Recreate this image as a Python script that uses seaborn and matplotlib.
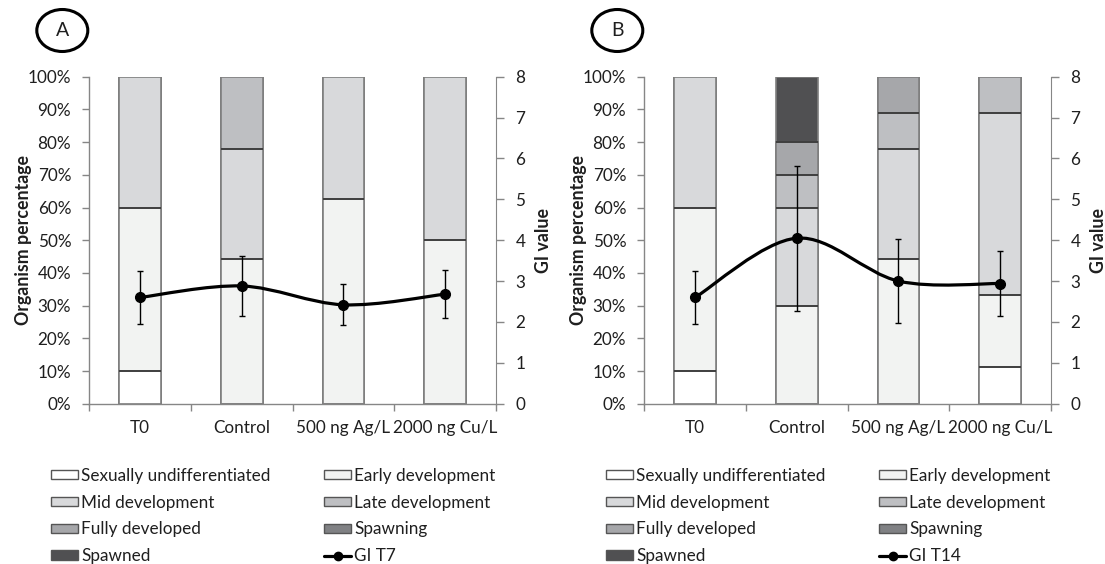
import numpy as np
import pandas as pd
import seaborn as sns
import matplotlib.pyplot as plt
from matplotlib.path import Path
from matplotlib.patches import PathPatch, Ellipse, Patch
from matplotlib.lines import Line2D
from matplotlib.ticker import FixedLocator, FuncFormatter

categories = ["T0", "Control", "500 ng Ag/L", "2000 ng Cu/L"]
stages = ["Sexually undifferentiated", "Early development", "Mid development",
          "Late development", "Fully developed", "Spawning", "Spawned"]
stage_colors = ["#ffffff", "#f2f3f2", "#d8d9db", "#bebfc2", "#a6a7aa", "#808184", "#505052"]

# % of organisms per stage (rows = stages, cols = categories)
stages_t7 = [
    [10.0, 0.0, 0.0, 0.0],
    [50.0, 44.4, 62.5, 50.0],
    [40.0, 33.4, 37.5, 50.0],
    [0.0, 22.2, 0.0, 0.0],
    [0.0, 0.0, 0.0, 0.0],
    [0.0, 0.0, 0.0, 0.0],
    [0.0, 0.0, 0.0, 0.0],
]
stages_t14 = [
    [10.0, 0.0, 0.0, 11.1],
    [50.0, 30.0, 44.4, 22.2],
    [40.0, 30.0, 33.4, 55.6],
    [0.0, 10.0, 11.1, 11.1],
    [0.0, 10.0, 11.1, 0.0],
    [0.0, 0.0, 0.0, 0.0],
    [0.0, 20.0, 0.0, 0.0],
]

gi_t7 = [2.60, 2.88, 2.42, 2.68]
gi_t7_sd = [0.65, 0.73, 0.50, 0.59]
gi_t14 = [2.60, 4.05, 3.00, 2.94]
gi_t14_sd = [0.65, 1.77, 1.02, 0.80]

W, H = 1105, 564
BAR_W = 0.41
GRAY = "#868686"
TXT = "#1f1f1f"
FS = 12.3

sns.set_style("white")
plt.rcParams["font.family"] = ["Lato", "DejaVu Sans"]
plt.rcParams["font.size"] = FS


def smooth_path(xs, ys):
    # excel-like smoothed line (catmull-rom as cubic bezier)
    pts = np.column_stack([xs, ys]).astype(float)
    verts = [pts[0]]
    codes = [Path.MOVETO]
    n = len(pts)
    for i in range(n - 1):
        p0 = pts[max(i - 1, 0)]
        p1 = pts[i]
        p2 = pts[i + 1]
        p3 = pts[min(i + 2, n - 1)]
        verts += [p1 + (p2 - p0) / 6, p2 - (p3 - p1) / 6, p2]
        codes += [Path.CURVE4] * 3
    return Path(verts, codes)


def panel(fig, left_px, letter, stage_vals, gi, gi_sd, gi_label):
    ax = fig.add_axes([left_px / W, 1 - 403.7 / H, 406.7 / W, 327.0 / H])
    vals = np.array(stage_vals)
    cum = np.cumsum(vals, axis=0)

    # overlay cumulative bars, top stage first
    for k in range(len(stages) - 1, -1, -1):
        df = pd.DataFrame({"cat": categories, "val": cum[k]})
        sns.barplot(data=df, x="cat", y="val", order=categories, color=stage_colors[k],
                    saturation=1, width=BAR_W, edgecolor="#7f7f7f", linewidth=1.2,
                    errorbar=None, ax=ax)

    # darker separators between segments
    for i in range(len(categories)):
        levels = sorted(set(round(v, 3) for v in cum[:, i] if 0.5 < v < 99.5))
        if levels:
            ax.hlines(levels, i - BAR_W / 2, i + BAR_W / 2, color="#333333", lw=1.2, zorder=3)

    ax.set_xlim(-0.5, 3.5)
    ax.set_ylim(0, 100)
    ax.set_xlabel("")
    ax.set_ylabel("Organism percentage", fontweight="bold", color=TXT, fontsize=12.8)
    ax.yaxis.set_label_coords(-0.142, 0.5)
    ax.set_yticks(np.arange(0, 101, 10))
    ax.yaxis.set_major_formatter(FuncFormatter(lambda v, p: f"{v:.0f}%"))
    ax.tick_params(axis="y", length=5, width=1, color=GRAY, pad=8, labelcolor=TXT, labelsize=FS)
    ax.tick_params(axis="x", which="major", length=0, pad=12, labelcolor=TXT, labelsize=FS)
    ax.xaxis.set_minor_locator(FixedLocator(np.arange(len(categories) + 1) - 0.5))
    ax.tick_params(axis="x", which="minor", length=5, width=1, color=GRAY, bottom=True)
    for s in ["top", "right"]:
        ax.spines[s].set_visible(False)
    for s in ["left", "bottom"]:
        ax.spines[s].set_color(GRAY)
        ax.spines[s].set_linewidth(1)

    ax2 = ax.twinx()
    ax2.set_ylim(0, 8)
    ax2.set_yticks(range(0, 9))
    ax2.tick_params(axis="y", length=6, width=1, color=GRAY, pad=8, labelcolor=TXT, labelsize=FS)
    for s in ["top", "left", "bottom"]:
        ax2.spines[s].set_visible(False)
    ax2.spines["right"].set_color(GRAY)
    ax2.set_ylabel("GI value", fontweight="bold", color=TXT, fontsize=12.8)
    ax2.yaxis.set_label_coords(1.096, 0.5)

    xs = np.arange(len(categories))
    ax2.add_patch(PathPatch(smooth_path(xs, gi), fill=False, lw=2.3, ec="black", zorder=4))
    ax2.errorbar(xs, gi, yerr=gi_sd, fmt="o", color="black", ms=7, elinewidth=1,
                 ecolor="black", capsize=2.5, capthick=1, zorder=5)
    ax2.set_xlim(-0.5, 3.5)

    # panel letter in an ellipse
    cx = left_px - 27
    fig.patches.append(Ellipse((cx / W, 1 - 30.5 / H), 51 / W, 42 / H,
                               transform=fig.transFigure, fill=False, lw=2.2, ec="black"))
    fig.text(cx / W, 1 - 31 / H, letter, ha="center", va="center", fontsize=14, color=TXT)

    # legend, two columns
    handles = [Patch(fc=c, ec="#555555", lw=1) for c in stage_colors]
    gi_handle = Line2D([], [], color="black", lw=2.3, marker="o", ms=6)
    col1 = [0, 2, 4, 6]
    col2 = [1, 3, 5]
    common = dict(loc="center left", frameon=False, fontsize=FS, borderpad=0,
                  handlelength=1.55, handleheight=0.5, handletextpad=0.2,
                  labelspacing=0.64, borderaxespad=0, labelcolor=TXT)
    fig.legend([handles[k] for k in col1], [stages[k] for k in col1],
               bbox_to_anchor=((left_px - 38) / W, 1 - 516 / H), **common)
    fig.legend([handles[k] for k in col2] + [gi_handle], [stages[k] for k in col2] + [gi_label],
               bbox_to_anchor=((left_px + 235) / W, 1 - 516 / H), **common)


fig = plt.figure(figsize=(W / 100, H / 100), dpi=100)
panel(fig, 89.3, "A", stages_t7, gi_t7, gi_t7_sd, "GI T7")
panel(fig, 644.3, "B", stages_t14, gi_t14, gi_t14_sd, "GI T14")
fig.savefig("out.png", dpi=100)
